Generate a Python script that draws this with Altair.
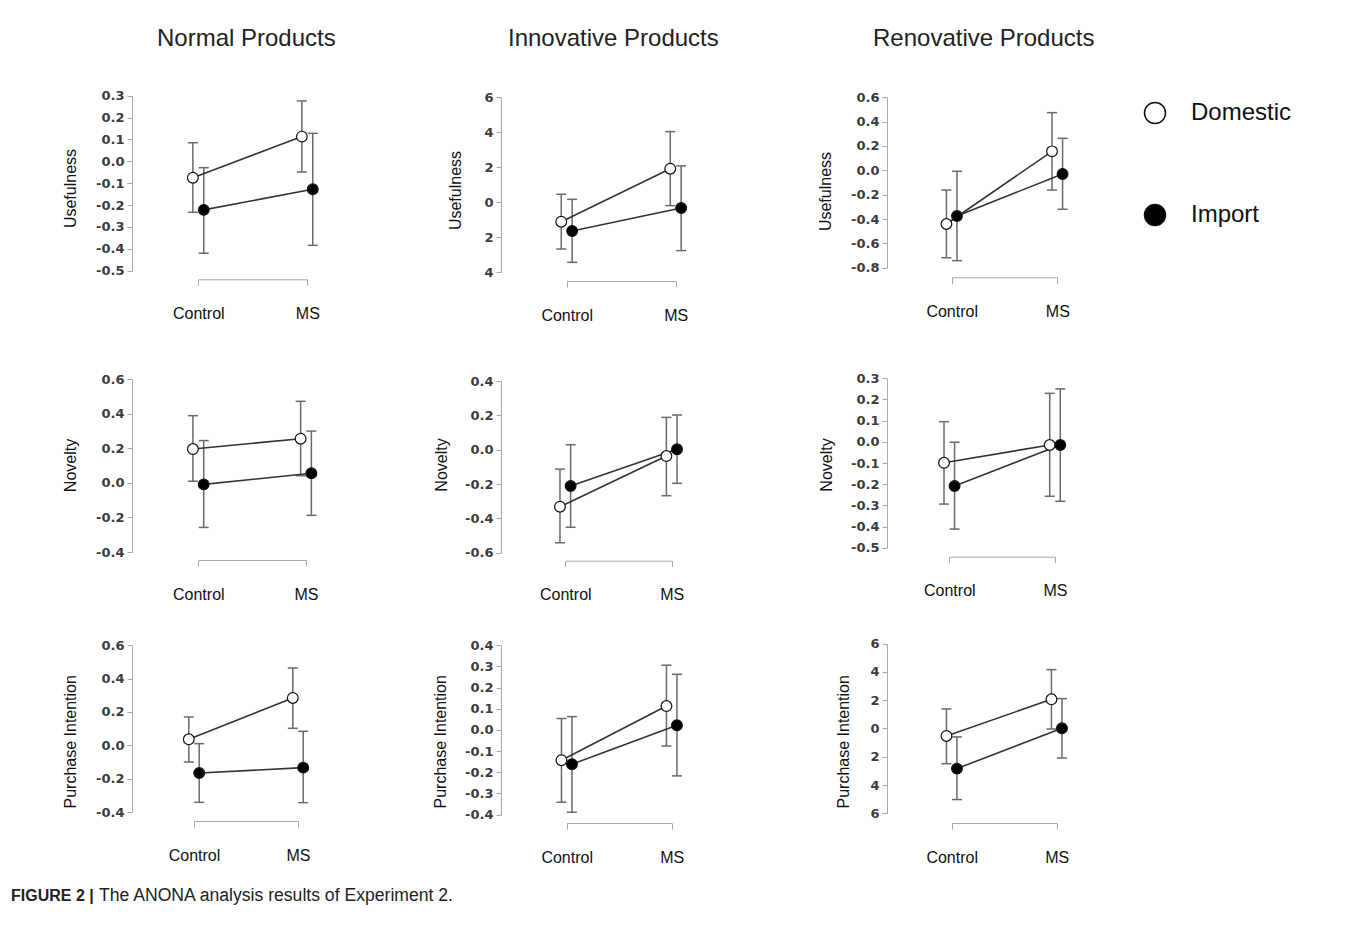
import altair as alt
import pandas as pd

# ---------------- data ----------------
conditions = ["Control", "MS"]
groups = ["Domestic", "Import"]
measures = ["Usefulness", "Novelty", "Purchase Intention"]
products = ["Normal Products", "Innovative Products", "Renovative Products"]
caption_bold = "FIGURE 2 |"
caption_text = "The ANONA analysis results of Experiment 2."

# order inside every list: Domestic-Control, Domestic-MS, Import-Control, Import-MS
normal_use_mean = [-0.075, 0.113, -0.222, -0.128]
normal_use_lo = [-0.233, -0.049, -0.420, -0.384]
normal_use_hi = [0.085, 0.276, -0.029, 0.128]
normal_use_ticks = [0.3, 0.2, 0.1, 0.0, -0.1, -0.2, -0.3, -0.4, -0.5]

innov_use_mean = [-0.111, 0.192, -0.164, -0.033]
innov_use_lo = [-0.267, -0.019, -0.343, -0.276]
innov_use_hi = [0.046, 0.404, 0.017, 0.208]
innov_use_ticks = [0.6, 0.4, 0.2, 0.0, -0.2, -0.4]

renov_use_mean = [-0.441, 0.156, -0.375, -0.030]
renov_use_lo = [-0.718, -0.162, -0.742, -0.320]
renov_use_hi = [-0.162, 0.474, -0.008, 0.263]
renov_use_ticks = [0.6, 0.4, 0.2, 0.0, -0.2, -0.4, -0.6, -0.8]

normal_nov_mean = [0.195, 0.255, -0.009, 0.055]
normal_nov_lo = [0.009, 0.041, -0.258, -0.188]
normal_nov_hi = [0.388, 0.471, 0.244, 0.299]
normal_nov_ticks = [0.6, 0.4, 0.2, 0.0, -0.2, -0.4]

innov_nov_mean = [-0.332, -0.037, -0.212, 0.002]
innov_nov_lo = [-0.542, -0.268, -0.452, -0.196]
innov_nov_hi = [-0.113, 0.188, 0.029, 0.202]
innov_nov_ticks = [0.4, 0.2, 0.0, -0.2, -0.4, -0.6]

renov_nov_mean = [-0.099, -0.015, -0.209, -0.015]
renov_nov_lo = [-0.294, -0.257, -0.412, -0.281]
renov_nov_hi = [0.095, 0.229, -0.002, 0.250]
renov_nov_ticks = [0.3, 0.2, 0.1, 0.0, -0.1, -0.2, -0.3, -0.4, -0.5]

normal_pi_mean = [0.036, 0.284, -0.166, -0.134]
normal_pi_lo = [-0.100, 0.102, -0.342, -0.344]
normal_pi_hi = [0.170, 0.464, 0.010, 0.084]
normal_pi_ticks = [0.6, 0.4, 0.2, 0.0, -0.2, -0.4]

innov_pi_mean = [-0.143, 0.113, -0.162, 0.022]
innov_pi_lo = [-0.342, -0.076, -0.389, -0.217]
innov_pi_hi = [0.054, 0.306, 0.063, 0.263]
innov_pi_ticks = [0.4, 0.3, 0.2, 0.1, 0.0, -0.1, -0.2, -0.3, -0.4]

renov_pi_mean = [-0.053, 0.206, -0.284, 0.001]
renov_pi_lo = [-0.249, -0.004, -0.503, -0.209]
renov_pi_hi = [0.138, 0.416, -0.060, 0.211]
renov_pi_ticks = [0.6, 0.4, 0.2, 0.0, -0.2, -0.4, -0.6]

# ---------------- layout (pixels, relative to each plot's top-left) ----------------
# (x of Control, x of MS, y of lowest tick, y of highest tick, plot height, title x, title y)
layout = [
    (66.3, 175.3, 190.7, 15.7, 199.3, -62, 108),
    (65.7, 174.7, 192.3, 17.3, 201.0, -46, 110),
    (64.7, 170.3, 187.7, 17.3, 197.3, -62, 111),
    (66.3, 174.0, 211.0, 38.0, 219.0, -62, 124),
    (64.3, 170.7, 211.7, 40.0, 219.7, -60, 123.5),
    (62.3, 168.0, 206.7, 37.3, 215.7, -61, 123.5),
    (62.0, 166.0, 191.0, 24.3, 200.0, -62, 120.3),
    (65.7, 170.7, 193.6, 24.3, 202.0, -61, 120.3),
    (64.7, 169.7, 192.3, 22.6, 202.0, -44, 120.3),
]
col_widths = [349, 366, 200]
title_dx = [25, 7, -14]

FONT = "Liberation Sans"
AX_GREY = "#a8a8a8"


def make_df(mean, lo, hi):
    rows = []
    i = 0
    for g in groups:
        for ci, c in enumerate(conditions):
            rows.append({"group": g, "condition": c, "cond_idx": ci + 1,
                         "mean": mean[i], "lo": lo[i], "hi": hi[i]})
            i += 1
    return pd.DataFrame(rows)


def panel(idx, mean, lo, hi, ticks, measure, clipped=False, title=None, legend=False):
    xc, xm, ylo, yhi, h, tx, ty = layout[idx]
    df = make_df(mean, lo, hi)
    if clipped:
        lab = "format(abs(datum.value) * 10, '.0f')"
    else:
        lab = "replace(format(datum.value, '.1f'), '\u2212', '-')"
    yaxis = alt.Axis(values=ticks, labelExpr=lab, title=measure, grid=False,
                     domainColor=AX_GREY, tickColor=AX_GREY, tickSize=5,
                     labelPadding=3, labelFont="DejaVu Sans", labelFontWeight="bold",
                     labelFontSize=13, labelColor="#3c3c3c",
                     titleFont=FONT, titleFontSize=16, titleFontWeight="normal",
                     titleColor="#111", titleX=tx, titleY=ty, titleBaseline="middle",
                     titleAngle=270)
    yscale = alt.Scale(domain=[ticks[-1], ticks[0]], range=[ylo, yhi], nice=False, zero=False)
    xaxis = alt.Axis(values=[1, 2], labelExpr="datum.value == 1 ? 'Control' : 'MS'",
                     title=None, grid=False, domainColor=AX_GREY, tickColor=AX_GREY,
                     tickSize=6, labelPadding=20, labelFont=FONT, labelFontSize=16,
                     labelColor="#111", labelAngle=0, labelFlush=False, labelAlign="center")
    xscale = alt.Scale(domain=[1, 2], range=[xc, xm], nice=False, zero=False)
    X = alt.X("xpos:Q", scale=xscale, axis=xaxis)

    base = alt.Chart(df).transform_calculate(
        xpos="datum.cond_idx + (datum.group == 'Domestic' ? -0.05 : 0.05)"
    )
    err = base.mark_rule(color="#6a6a6a", strokeWidth=1.5).encode(
        x=X, y=alt.Y("lo:Q", scale=yscale, axis=yaxis), y2="hi:Q")
    cap_lo = base.mark_tick(orient="horizontal", size=10, thickness=1.5,
                            color="#6a6a6a", opacity=1).encode(
        x=X, y=alt.Y("lo:Q", scale=yscale, axis=yaxis))
    cap_hi = base.mark_tick(orient="horizontal", size=10, thickness=1.5,
                            color="#6a6a6a", opacity=1).encode(
        x=X, y=alt.Y("hi:Q", scale=yscale, axis=yaxis))
    line = base.mark_line(color="#333", strokeWidth=1.6).encode(
        x=X, y=alt.Y("mean:Q", scale=yscale, axis=yaxis),
        detail="group:N", order="cond_idx:Q")
    if legend:
        leg = alt.Legend(orient="none", legendX=256, legendY=21, title=None,
                         symbolType="circle", symbolSize=441,
                         symbolStrokeColor="#111", symbolStrokeWidth=1.5,
                         labelFont=FONT, labelFontSize=24, labelColor="#111",
                         labelOffset=24, rowPadding=74)
    else:
        leg = None
    pts = base.mark_point(filled=True, size=115, stroke="#111", strokeWidth=1.2,
                          opacity=1).encode(
        x=X, y=alt.Y("mean:Q", scale=yscale, axis=yaxis),
        fill=alt.Fill("group:N", scale=alt.Scale(domain=groups, range=["white", "black"]),
                      legend=leg))
    ch = alt.layer(err, cap_lo, cap_hi, line, pts).properties(
        width=col_widths[idx % 3], height=h)
    if title is not None:
        ch = ch.properties(title=title)
    return ch


def col_title(i):
    return alt.TitleParams(products[i], anchor="start", frame="group", dx=title_dx[i],
                           offset=10, fontSize=24, font=FONT, fontWeight="normal",
                           color="#222", baseline="alphabetic")


cap1 = alt.TitleParams(caption_bold, orient="bottom", anchor="start", frame="group",
                       dx=-121, offset=38, fontSize=16, font=FONT, fontWeight="bold",
                       color="#222", baseline="alphabetic")
cap2 = alt.TitleParams(caption_text, orient="bottom", anchor="start", frame="group",
                       dx=-402, offset=36, fontSize=17.6, font=FONT, fontWeight="normal",
                       color="#222", baseline="alphabetic")

panels = [
    panel(0, normal_use_mean, normal_use_lo, normal_use_hi, normal_use_ticks, measures[0], title=col_title(0)),
    panel(1, innov_use_mean, innov_use_lo, innov_use_hi, innov_use_ticks, measures[0], clipped=True, title=col_title(1)),
    panel(2, renov_use_mean, renov_use_lo, renov_use_hi, renov_use_ticks, measures[0], title=col_title(2), legend=True),
    panel(3, normal_nov_mean, normal_nov_lo, normal_nov_hi, normal_nov_ticks, measures[1]),
    panel(4, innov_nov_mean, innov_nov_lo, innov_nov_hi, innov_nov_ticks, measures[1]),
    panel(5, renov_nov_mean, renov_nov_lo, renov_nov_hi, renov_nov_ticks, measures[1]),
    panel(6, normal_pi_mean, normal_pi_lo, normal_pi_hi, normal_pi_ticks, measures[2], title=cap1),
    panel(7, innov_pi_mean, innov_pi_lo, innov_pi_hi, innov_pi_ticks, measures[2], title=cap2),
    panel(8, renov_pi_mean, renov_pi_lo, renov_pi_hi, renov_pi_ticks, measures[2], clipped=True),
]

chart = alt.concat(*panels, columns=3, bounds="flush",
                   spacing={"row": 60, "column": 20}).resolve_scale(
    fill="independent").resolve_legend(fill="independent").properties(
    padding={"left": 3, "top": 19, "right": 5, "bottom": 5},
    background="white",
).configure_view(stroke=None)

chart.save("out.html", embed_options={"renderer": "svg", "actions": False})
